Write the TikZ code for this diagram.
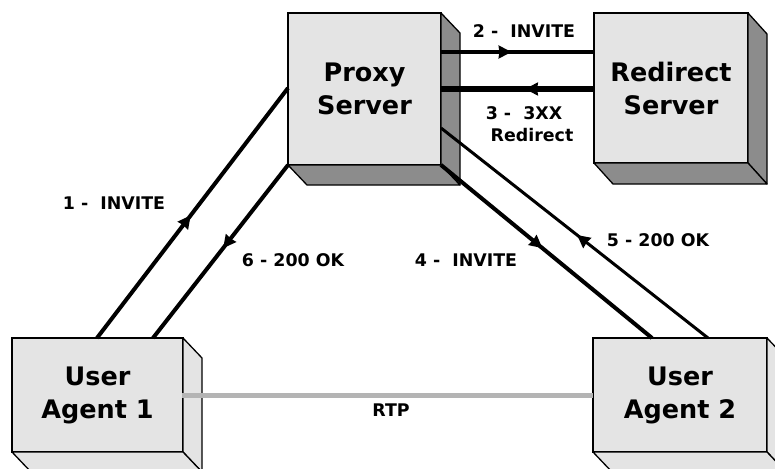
\documentclass[tikz,border=0pt]{standalone}
\usepackage{fontspec}
\setmainfont{DejaVu Sans}
\usetikzlibrary{arrows.meta,decorations.markings}
\definecolor{facelight}{HTML}{E4E4E4}
\definecolor{facedark}{HTML}{8C8C8C}
\definecolor{rtpgray}{HTML}{B4B4B4}
\begin{document}
\begin{tikzpicture}[x=1pt,y=-1pt,
  front/.style={draw=black, line width=1.3pt, fill=facelight, inner sep=0pt, outer sep=0pt,
    align=center, font=\fontsize{25.5}{33}\selectfont\bfseries},
  side/.style={draw=black, line width=1.3pt, line join=round},
  lbl/.style={inner sep=0pt, font=\fontsize{17.4}{20}\selectfont\bfseries},
  msg/.style 2 args={draw=black, line width=#1,
    decoration={markings, mark=at position #2 with {\fill[black] (0pt,0pt) -- (-13pt,6.8pt) -- (-12pt,0pt) -- (-13pt,-6.8pt) -- cycle;}},
    postaction=decorate},
  rtp/.style={draw=rtpgray, line width=5pt}
]
\useasboundingbox (0,0) rectangle (775,468);
\clip (0,0) rectangle (775,468);

% boxes (front faces)
\node[front, minimum width=153pt, minimum height=152pt] (proxy) at (364.5,89) {Proxy\\Server};
\node[front, minimum width=154pt, minimum height=150pt] (redirect) at (671,88) {Redirect\\Server};
\node[front, minimum width=171pt, minimum height=114pt] (ua1) at (97.5,395) {User\\Agent 1};
\node[front, minimum width=174pt, minimum height=114pt] (ua2) at (680,395) {User\\Agent 2};

% side faces
\draw[side, fill=facedark] (proxy.north east) -- ++(19,20) -- ([shift={(19,20)}]proxy.south east) -- (proxy.south east) -- cycle;
\draw[side, fill=facedark] (proxy.south west) -- (proxy.south east) -- ++(19,20) -- ([shift={(19,20)}]proxy.south west) -- cycle;
\draw[side, fill=facedark] (redirect.north east) -- ++(19,21) -- ([shift={(19,21)}]redirect.south east) -- (redirect.south east) -- cycle;
\draw[side, fill=facedark] (redirect.south west) -- (redirect.south east) -- ++(19,21) -- ([shift={(19,21)}]redirect.south west) -- cycle;
\draw[side, fill=facelight] (ua1.north east) -- ++(19,20) -- ([shift={(19,20)}]ua1.south east) -- (ua1.south east) -- cycle;
\draw[side, fill=facelight] (ua1.south west) -- (ua1.south east) -- ++(19,20) -- ([shift={(19,20)}]ua1.south west) -- cycle;
\draw[side, fill=facelight] (ua2.north east) -- ++(19,20) -- ([shift={(19,20)}]ua2.south east) -- (ua2.south east) -- cycle;
\draw[side, fill=facelight] (ua2.south west) -- (ua2.south east) -- ++(19,20) -- ([shift={(19,20)}]ua2.south west) -- cycle;

% connectors
\draw[msg={4pt}{0.49}] ([xshift=85pt]ua1.north west) -- ([yshift=1pt]proxy.west);
\draw[msg={4pt}{0.48}] (proxy.south west) -- ([xshift=141pt]ua1.north west);
\draw[msg={4.5pt}{0.46}] ([yshift=-39pt]proxy.north east) -- ([yshift=-39pt]redirect.north west);
\draw[msg={6pt}{0.45}] ([yshift=-76pt]redirect.north west) -- ([yshift=-76pt]proxy.north east);
\draw[msg={4pt}{0.48}] (proxy.south east) -- ([xshift=59pt]ua2.north west);
\draw[msg={3pt}{0.49}] ([xshift=115pt]ua2.north west) -- ([yshift=-115pt]proxy.north east);
\draw[rtp] ([xshift=-1pt]ua1.east) -- (ua2.west);

% labels
\node[lbl] (l1) at (114,203) {1 -~~INVITE};
\node[lbl] (l2) at (524,31) {2 -~~INVITE};
\node[lbl] (l3a) at (524,113) {3 -~~3XX};
\node[lbl] (l3b) at (532,135) {Redirect};
\node[lbl] (l4) at (466,260) {4 -~~INVITE};
\node[lbl] (l5) at (658,240) {5 - 200 OK};
\node[lbl] (l6) at (293,260) {6 - 200 OK};
\node[lbl] (lrtp) at (391,410) {RTP};
\end{tikzpicture}
\end{document}
